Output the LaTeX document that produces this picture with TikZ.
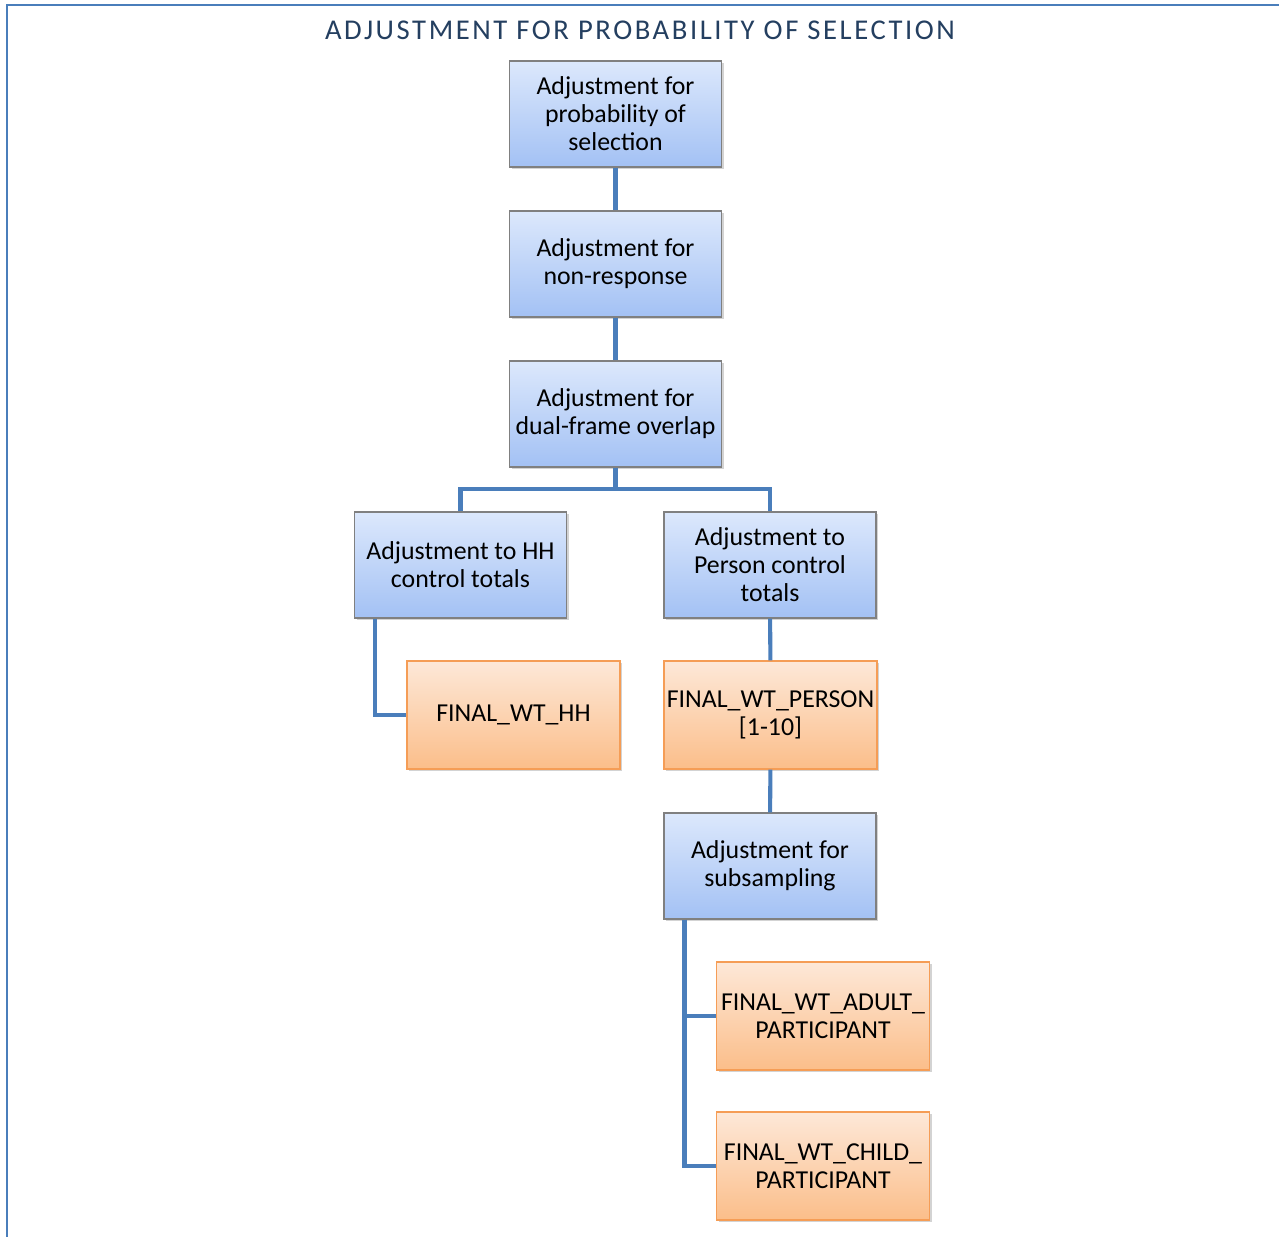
\documentclass[tikz,border=0pt]{standalone}
\usepackage{fontspec}
\setmainfont{Carlito}
\usepackage{tikz}
\usetikzlibrary{calc,shadows}
\definecolor{linkblue}{HTML}{4A7EBB}
\definecolor{titleblue}{HTML}{243F60}
\definecolor{boxtop}{HTML}{DCE8FC}
\definecolor{boxbottom}{HTML}{A3C1F4}
\definecolor{wttop}{HTML}{FDE8D8}
\definecolor{wtbottom}{HTML}{FBBE8A}
\definecolor{wtborder}{HTML}{F59D56}

\begin{document}
\begin{tikzpicture}[x=0.02cm,y=-0.02cm]
  \tikzstyle{adj}=[rectangle, draw=gray, line width=0.6pt, top color=boxtop, bottom color=boxbottom,
    minimum width=4.24cm, minimum height=2.12cm, align=center, inner sep=1pt,
    font=\fontsize{14.7}{16}\selectfont,
    drop shadow={shadow xshift=1.2pt, shadow yshift=-1.2pt, opacity=0.35}]
  \tikzstyle{wt}=[adj, draw=wtborder, top color=wttop, bottom color=wtbottom, minimum height=2.16cm, minimum width=4.26cm]
  \tikzstyle{link}=[line width=2.3pt, color=linkblue]
  \useasboundingbox (0,0) rectangle (1279,1237);
  \draw[linkblue, line width=1.2pt] (7,1237) -- (7,5) -- (1279,5);
  \node[text=titleblue, font=\fontsize{16.3}{19}\selectfont\addfontfeatures{LetterSpace=9}] (title) at (640,30)
    {ADJUSTMENT FOR PROBABILITY OF SELECTION};
  % main chain
  \foreach \n/\y/\t in {b1/114/{Adjustment for\\probability of\\selection},
                        b2/264/{Adjustment for\\non-response},
                        b3/414/{Adjustment for\\dual-frame overlap}} {
    \node[adj] (\n) at (615.5,\y) {\t};
  }
  \node[adj] (hh) at (460.5,565) {Adjustment to HH\\control totals};
  \node[adj] (person) at (770,565) {Adjustment to\\Person control\\totals};
  \node[wt] (fwhh) at (513.5,715) {FINAL\_WT\_HH};
  \node[wt] (fwperson) at (770.5,715) {FINAL\_WT\_PERSON\\{}[1-10]};
  \node[adj] (sub) at (770,866) {Adjustment for\\subsampling};
  \node[wt] (adult) at (823,1016) {FINAL\_WT\_ADULT\_\\PARTICIPANT};
  \node[wt] (child) at (823,1166) {FINAL\_WT\_CHILD\_\\PARTICIPANT};
  \coordinate (split) at (615.5,489);
  \draw[link] (b1) -- (b2);
  \draw[link] (b2) -- (b3);
  \draw[link] (b3.south) -- (split);
  \draw[link] (split) -| (hh.north);
  \draw[link] (split) -| (person.north);
  \draw[link] ($(hh.south west)+(21,0)$) |- (fwhh.west);
  \draw[link] (person) -- (fwperson);
  \draw[link] (fwperson) -- (sub);
  \draw[link] ($(sub.south west)+(21,0)$) |- (adult.west);
  \draw[link] ($(sub.south west)+(21,0)$) |- (child.west);
\end{tikzpicture}
\end{document}
